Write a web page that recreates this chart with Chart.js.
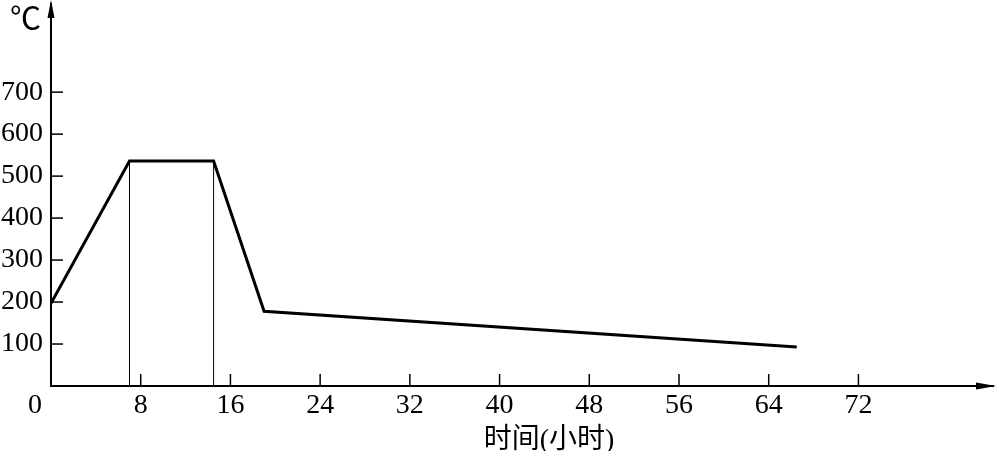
<!DOCTYPE html>
<html>
<head>
<meta charset="utf-8">
<script src="https://cdn.jsdelivr.net/npm/chart.js@4"></script>
<style>
  html, body { margin: 0; padding: 0; background: #ffffff; }
  canvas { display: block; }
</style>
</head>
<body>
<canvas id="heat_chart" width="997" height="451"></canvas>
<script>

// heat treatment curve - temperature vs time

var hours = [0, 7, 14.5, 19, 66.5];          // x values (h)
var temps = [197, 536, 536, 178, 93];         // temperature (℃)
var guideHours = [7, 14.5];                   // thin vertical lines
var xTicks = [8, 16, 24, 32, 40, 48, 56, 64, 72];
var yTicks = [100, 200, 300, 400, 500, 600, 700];

var serif = "'Liberation Serif', 'Times New Roman', serif";
var cjk = "'Liberation Serif', 'Noto Sans CJK SC', sans-serif";

var curve = hours.map(function(h, i) { return {x: h, y: temps[i]}; });
var guides = guideHours.map(function(h) {
    return {
        data: [{x: h, y: 0}, {x: h, y: temps[hours.indexOf(h)]}],
        borderColor: '#000', borderWidth: 1, pointRadius: 0, fill: false,
    };
});


// tick marks inside the area, axis arrows and free texts
var axisExtras = {
    id: 'axisExtras',
    afterDraw: function(chart) {
        var c = chart.ctx;
        var xs = chart.scales.x, ys = chart.scales.y;
        var a = chart.chartArea;
        c.save();
        c.strokeStyle = '#000';
        c.fillStyle = '#000';
        c.lineWidth = 1.5;

        ys.ticks.forEach(function(t) {
            var p = ys.getPixelForValue(t.value);
            c.beginPath(); c.moveTo(a.left, p); c.lineTo(a.left + 12, p); c.stroke();
        });
        xs.ticks.forEach(function(t) {
            var p = xs.getPixelForValue(t.value);
            c.beginPath(); c.moveTo(p, a.bottom); c.lineTo(p, a.bottom - 12); c.stroke();
        });

        // arrows
        c.beginPath();
        c.moveTo(a.left, 0); c.lineTo(a.left - 3.5, 18); c.lineTo(a.left + 3.5, 18);
        c.closePath(); c.fill();
        c.beginPath();
        c.moveTo(a.right + 3, a.bottom); c.lineTo(a.right - 17, a.bottom - 3.5);
        c.lineTo(a.right - 17, a.bottom + 3.5);
        c.closePath(); c.fill();

        // origin label, unit and axis title
        c.textBaseline = 'alphabetic';
        c.textAlign = 'center';
        c.font = '28px ' + serif;
        c.fillText('0', a.left - 16, 413);
        c.font = '28px ' + cjk;
        c.fillText('时间(小时)', 549, 448);
        c.textAlign = 'left';
        c.font = "31px 'Noto Sans CJK SC', sans-serif";
        c.fillText('℃', 10, 29);
        c.restore();
    }
};


var ctx = document.getElementById('heat_chart').getContext('2d');

var heat_chart = new Chart(ctx, {
    type: 'line',

    data: {
        datasets: [{
            data: curve,
            borderColor: '#000',
            borderWidth: 3,
            pointRadius: 0,
            tension: 0,
            fill: false,
        }].concat(guides),
    },

    options: {
        responsive: false,
        animation: false,
        layout: { padding: { top: 4, right: 4, left: 0, bottom: 0 } },

        scales: {
            x: {
                type: 'linear',
                min: 0,
                max: 84,
                afterBuildTicks: function(s) { s.ticks = xTicks.map(function(v) { return {value: v}; }); },
                afterFit: function(s) { s.height = 65; },
                grid: { display: false, drawTicks: false },
                border: { display: true, color: '#000', width: 2 },
                ticks: { color: '#000', padding: 3, maxRotation: 0, font: { size: 28, family: serif } },
            },
            y: {
                type: 'linear',
                min: 0,
                max: 910,
                afterBuildTicks: function(s) { s.ticks = yTicks.map(function(v) { return {value: v}; }); },
                afterFit: function(s) { s.width = 51; s.paddingTop = 0; s.paddingBottom = 0; },
                grid: { display: false, drawTicks: false },
                border: { display: true, color: '#000', width: 2 },
                ticks: { color: '#000', padding: 8, font: { size: 28, family: serif } },
            },
        },

        plugins: {
            legend: { display: false },
            tooltip: { enabled: false },
            title: { display: false },
        },
    },

    plugins: [axisExtras],
});

</script>
</body>
</html>
